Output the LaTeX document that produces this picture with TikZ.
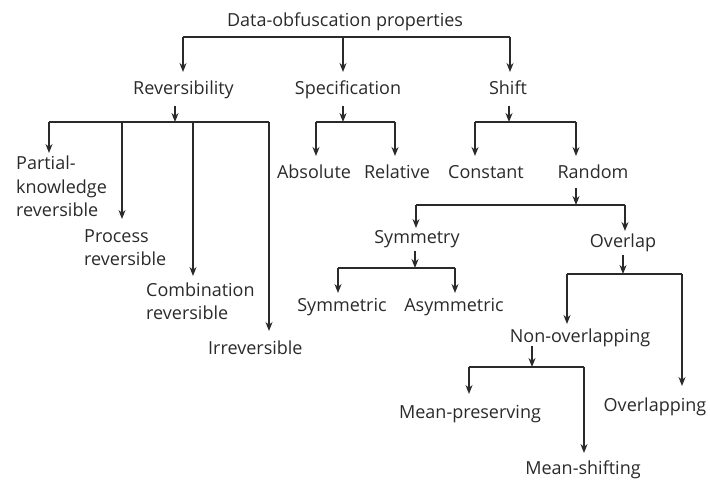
\documentclass[tikz,border=0pt]{standalone}
\usepackage{fontspec}
\setmainfont{Open Sans}
\usetikzlibrary{arrows.meta}
\definecolor{ink}{HTML}{2A2A2A}
\begin{document}
\begin{tikzpicture}[x=1pt,y=-1pt,
  lbl/.style={inner sep=0pt,text=ink,font=\fontsize{18}{23.5}\selectfont},
  arr/.style={draw=ink,line width=1.4pt,-{Stealth[length=9pt,width=7pt]}},
  ln/.style={draw=ink,line width=1.4pt}]
\useasboundingbox (0,0) rectangle (710,486);
% nodes
\node[lbl,anchor=base] (root) at (345,27) {Data-obfuscation properties};
\node[lbl,anchor=base] (rev) at (183.5,95) {Reversibility};
\node[lbl,anchor=base] (spec) at (348,95) {Specification};
\node[lbl,anchor=base] (shift) at (508,95) {Shift};
\node[lbl,anchor=base west,align=left] (pk) at (16,217) {Partial-\\knowledge\\reversible};
\node[lbl,anchor=base west,align=left] (pr) at (84,266) {Process\\reversible};
\node[lbl,anchor=base west,align=left] (cr) at (146,320) {Combination\\reversible};
\node[lbl,anchor=base west] (irr) at (208,355) {Irreversible};
\node[lbl,anchor=base] (abs) at (314,179) {Absolute};
\node[lbl,anchor=base] (rel) at (397,179) {Relative};
\node[lbl,anchor=base] (const) at (486,179) {Constant};
\node[lbl,anchor=base] (rand) at (593,179) {Random};
\node[lbl,anchor=base] (sym) at (417,244) {Symmetry};
\node[lbl,anchor=base] (ovl) at (623,248) {Overlap};
\node[lbl,anchor=base] (symm) at (342,312) {Symmetric};
\node[lbl,anchor=base] (asym) at (454,312) {Asymmetric};
\node[lbl,anchor=base] (nonov) at (580,343) {Non-overlapping};
\node[lbl,anchor=base] (mp) at (470,418) {Mean-preserving};
\node[lbl,anchor=base] (ovlp) at (655,411) {Overlapping};
\node[lbl,anchor=base] (ms) at (583,475) {Mean-shifting};
% coordinates
\coordinate (b0l) at (183,37); \coordinate (b0m) at (343,37); \coordinate (b0r) at (510,37);
\coordinate (t0l) at (183,72); \coordinate (t0m) at (343,72); \coordinate (t0r) at (510,72);
% root
\draw[ln] (b0l) -- (b0r);
\draw[arr] (b0l) -- (t0l);
\draw[arr] (b0m) -- (t0m);
\draw[arr] (b0r) -- (t0r);
% reversibility
\coordinate (s1a) at (175,106); \coordinate (s1b) at (175,122);
\draw[arr] (s1a) -- (s1b);
\coordinate (b1a) at (49,122); \coordinate (b1b) at (122,122); \coordinate (b1c) at (193,122); \coordinate (b1d) at (269,122);
\draw[ln] (b1a) -- (b1d);
\coordinate (t1a) at (49,153); \coordinate (t1b) at (122,219); \coordinate (t1c) at (193,276); \coordinate (t1d) at (269,331);
\draw[arr] (b1a) -- (t1a);
\draw[arr] (b1b) -- (t1b);
\draw[arr] (b1c) -- (t1c);
\draw[arr] (b1d) -- (t1d);
% specification
\coordinate (s2a) at (343,106); \coordinate (s2b) at (343,122);
\draw[arr] (s2a) -- (s2b);
\coordinate (b2a) at (316,122); \coordinate (b2b) at (395,122);
\draw[ln] (b2a) -- (b2b);
\coordinate (t2a) at (316,156); \coordinate (t2b) at (395,156);
\draw[arr] (b2a) -- (t2a);
\draw[arr] (b2b) -- (t2b);
% shift
\coordinate (s3a) at (509,106); \coordinate (s3b) at (509,122);
\draw[arr] (s3a) -- (s3b);
\coordinate (b3a) at (475,122); \coordinate (b3b) at (576,122);
\draw[ln] (b3a) -- (b3b);
\coordinate (t3a) at (475,156); \coordinate (t3b) at (576,156);
\draw[arr] (b3a) -- (t3a);
\draw[arr] (b3b) -- (t3b);
% random
\coordinate (s4a) at (576,188); \coordinate (s4b) at (576,205);
\draw[arr] (s4a) -- (s4b);
\coordinate (b4a) at (416,205); \coordinate (b4b) at (625,205);
\draw[ln] (b4a) -- (b4b);
\coordinate (t4a) at (416,228); \coordinate (t4b) at (625,231);
\draw[arr] (b4a) -- (t4a);
\draw[arr] (b4b) -- (t4b);
% symmetry
\coordinate (s5a) at (415,251); \coordinate (s5b) at (415,268);
\draw[arr] (s5a) -- (s5b);
\coordinate (b5a) at (338,268); \coordinate (b5b) at (455,268);
\draw[ln] (b5a) -- (b5b);
\coordinate (t5a) at (338,293); \coordinate (t5b) at (455,293);
\draw[arr] (b5a) -- (t5a);
\draw[arr] (b5b) -- (t5b);
% overlap
\coordinate (s6a) at (623,255); \coordinate (s6b) at (623,274);
\draw[arr] (s6a) -- (s6b);
\coordinate (b6a) at (567,274); \coordinate (b6b) at (682,274);
\draw[ln] (b6a) -- (b6b);
\coordinate (t6a) at (567,324); \coordinate (t6b) at (682,386);
\draw[arr] (b6a) -- (t6a);
\draw[arr] (b6b) -- (t6b);
% non-overlapping
\coordinate (s7a) at (532,346); \coordinate (s7b) at (532,367);
\draw[arr] (s7a) -- (s7b);
\coordinate (b7a) at (469,367); \coordinate (b7b) at (584,367);
\draw[ln] (b7a) -- (b7b);
\coordinate (t7a) at (469,394); \coordinate (t7b) at (584,453);
\draw[arr] (b7a) -- (t7a);
\draw[arr] (b7b) -- (t7b);
\end{tikzpicture}
\end{document}
